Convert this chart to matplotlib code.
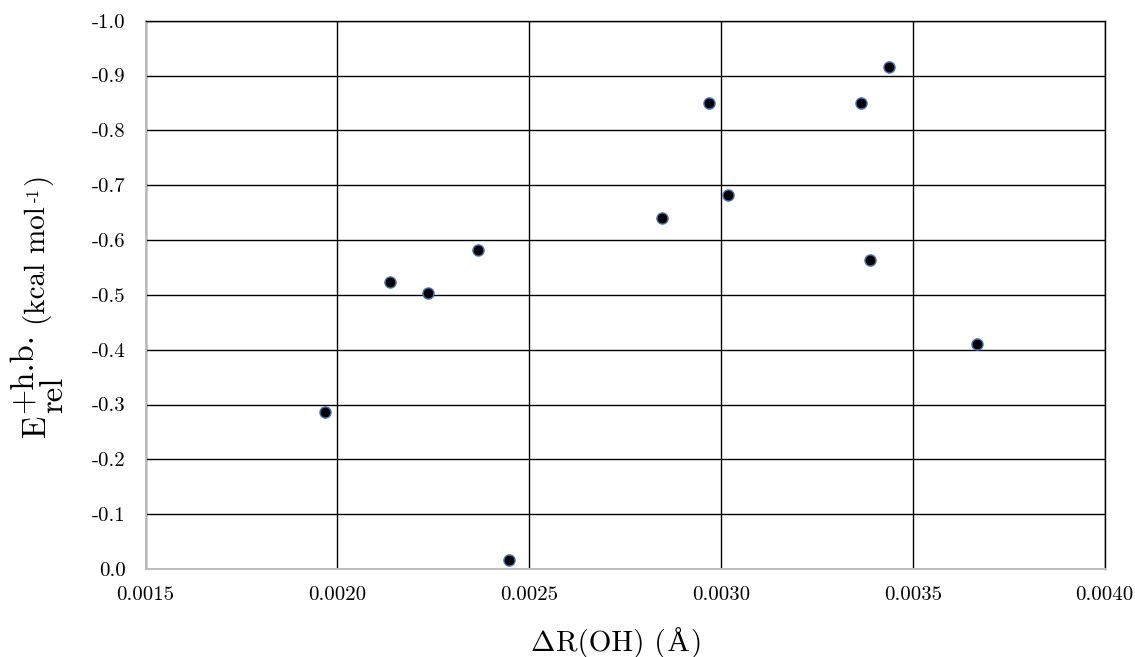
import matplotlib
matplotlib.use("Agg")
import matplotlib.pyplot as plt
from matplotlib.ticker import FuncFormatter
from matplotlib.transforms import IdentityTransform

plt.rcParams["font.family"] = ["cmr10", "STIXGeneral", "DejaVu Serif"]
plt.rcParams["mathtext.fontset"] = "cm"
plt.rcParams["axes.unicode_minus"] = False

# O-H bond elongation (Å) and relative hydrogen-bond energy (kcal/mol)
delta_r_oh = [0.001967, 0.002137, 0.002236, 0.002367, 0.002447, 0.002847,
              0.002969, 0.003019, 0.003365, 0.003389, 0.003438, 0.003668]
e_rel = [-0.286, -0.523, -0.503, -0.582, -0.016, -0.641,
         -0.849, -0.683, -0.849, -0.564, -0.915, -0.411]

x_ticks = [0.0015, 0.0020, 0.0025, 0.0030, 0.0035, 0.0040]
y_ticks = [0.0, -0.1, -0.2, -0.3, -0.4, -0.5, -0.6, -0.7, -0.8, -0.9, -1.0]

W, H, DPI = 1135, 657, 100
fig = plt.figure(figsize=(W / DPI, H / DPI), dpi=DPI)
ax = fig.add_axes([145.5 / W, 1 - 569 / H, (1104.5 - 145.5) / W, (569 - 20.7) / H])

ax.scatter(delta_r_oh, e_rel, s=64, color="black", edgecolors="#4472C4",
           linewidths=1.0, zorder=3)

ax.set_xlim(0.0015, 0.0040)
ax.set_ylim(0.0, -1.0)
ax.set_xticks(x_ticks)
ax.set_yticks(y_ticks)
ax.xaxis.set_major_formatter(FuncFormatter(lambda v, p: f"{v:.4f}"))
ax.yaxis.set_major_formatter(
    FuncFormatter(lambda v, p: f"{v:.1f}" if abs(v) > 1e-9 else "0.0"))

ax.set_axisbelow(True)
ax.grid(True, color="black", linewidth=1.0)
ax.tick_params(length=0, labelsize=15)
ax.tick_params(axis="y", pad=14.4)
ax.tick_params(axis="x", pad=12.5)

for side in ("left", "bottom"):
    ax.spines[side].set_color("#bfbfbf")
    ax.spines[side].set_linewidth(1.4)
for side in ("top", "right"):
    ax.spines[side].set_color("black")
    ax.spines[side].set_linewidth(1.0)

renderer = fig.canvas.get_renderer()


def ink_length(s, size, family=None):
    """Length of a run of text along its reading direction, in pixels."""
    kw = {"fontsize": size}
    if family:
        kw["family"] = family
    t = fig.text(0, 0, s, **kw)
    w = t.get_window_extent(renderer).width
    t.remove()
    return w


def put(s, x, y, size, rotation=0, family=None):
    kw = {"fontsize": size, "transform": IdentityTransform(),
          "rotation": rotation, "rotation_mode": "anchor",
          "ha": "left", "va": "baseline"}
    if family:
        kw["family"] = family
    fig.text(x, y, s, **kw)


# x-axis label: ΔR(OH) (Å), laid out piece by piece along one baseline
LS = 21
x_pieces = [(r"$\Delta$", None), ("R(OH) (", None), ("Å", "Liberation Serif"), (")", None)]
gaps = [1.5, 2.0, 2.0, 0]
lengths = [ink_length(s, LS, f) for s, f in x_pieces]
total = sum(lengths) + sum(gaps[:-1])
xpos = 616 - total / 2
base_y = H - 651
for (s, f), L, g in zip(x_pieces, lengths, gaps):
    put(s, xpos, base_y, LS, family=f)
    xpos += L + g

# y-axis label: E with "+h.b." above and "rel" below, then the units
ES = 23.5           # size of the symbol block
bx = 45.0           # baseline (image x) of the main run
y0 = H - 437.0      # start of the run, display coordinates
put("E", bx, y0, ES, rotation=90)
y1 = y0 + ink_length("E", ES) + 1.5
put("+h.b.", bx - 12.5, y1, ES, rotation=90)
put("rel", bx + 17.0, y1, ES, rotation=90)
y2 = y1 + max(ink_length("+h.b.", ES), ink_length("rel", ES)) + 8.0
put("(kcal mol", bx, y2, LS, rotation=90)
y3 = y2 + ink_length("(kcal mol", LS) + 4.0
put("-1", bx - 6.0, y3, 12, rotation=90)
y4 = y3 + ink_length("-1", 12) + 4.0
put(")", bx, y4, LS, rotation=90)

fig.savefig("out.png", dpi=DPI)
